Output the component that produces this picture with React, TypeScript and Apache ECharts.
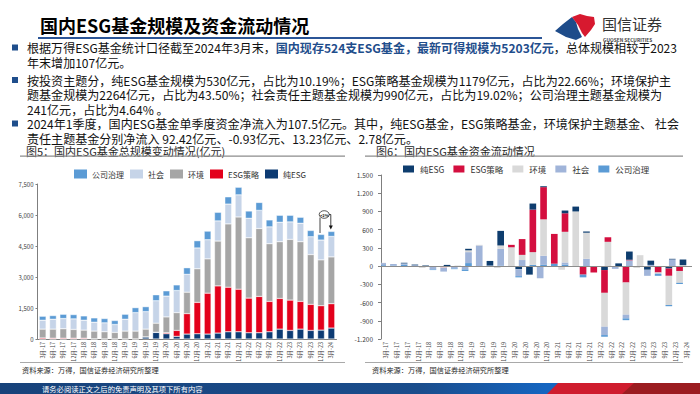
import React, { useEffect, useRef } from "react";
import * as echarts from "echarts";

const FONT = '"Noto Sans CJK SC", "Noto Sans", sans-serif';

// ---------- data ----------
const quarters = [
  "3月-17", "6月-17", "9月-17", "12月-17",
  "3月-18", "6月-18", "9月-18", "12月-18",
  "3月-19", "6月-19", "9月-19", "12月-19",
  "3月-20", "6月-20", "9月-20", "12月-20",
  "3月-21", "6月-21", "9月-21", "12月-21",
  "3月-22", "6月-22", "9月-22", "12月-22",
  "3月-23", "6月-23", "9月-23", "12月-23",
  "3月-24",
];

// Fig 5: fund size (亿元)
const sizePure = [0, 0, 0, 0, 0, 0, 0, 0, 0, 0, 100, 319, 255, 128, 239, 255, 239, 287, 351, 351, 303, 303, 351, 479, 415, 479, 415, 431, 530];
const sizeStrategy = [50, 40, 40, 40, 40, 10, 5, 5, 5, 5, 5, 10, 48, 287, 990, 1517, 1979, 2283, 2155, 2059, 1676, 1756, 1468, 1484, 1468, 1340, 1261, 1181, 1179];
const sizeEnv = [429, 439, 455, 423, 391, 373, 346, 314, 378, 378, 374, 437, 766, 862, 1037, 1627, 1660, 2170, 3064, 3495, 2921, 3288, 2793, 2745, 2937, 2889, 2410, 2218, 2264];
const sizeSocial = [431, 479, 495, 511, 479, 431, 431, 383, 575, 894, 846, 1085, 1006, 1069, 862, 1006, 926, 974, 958, 1070, 941, 877, 814, 942, 846, 894, 862, 958, 990];
const sizeGov = [191, 175, 207, 207, 207, 207, 208, 192, 239, 239, 239, 288, 255, 271, 319, 351, 415, 415, 351, 367, 351, 383, 335, 335, 319, 287, 303, 271, 241];

// Fig 6: net flows (亿元)
const flowPure = [0, 0, 10, 10, 10, 0, 20, 0, 25, 0, 75, 240, -50, -140, 100, 15, 0, 45, 80, 20, -65, 0, 45, 135, -60, 70, -40, 10, 92.42];
const flowStrategy = [-5, -10, 0, 0, 0, -20, 0, 0, 0, 0, 0, 0, 40, 260, 700, 530, 490, 305, -140, -105, -375, 75, -270, 10, 0, -105, -120, -80, -0.93];
const flowEnv = [5, 0, 0, -30, -5, -10, 0, 10, 30, 10, -30, 55, 310, 85, 210, 600, -60, 505, 900, 430, -558, 400, -530, -30, 180, -20, -480, -195, 13.23];
const flowSocial = [35, 25, 20, 15, -50, -60, -40, -55, 180, 340, 5, 275, -115, 100, -200, 150, 0, 35, 0, 120, -137, -45, -60, 95, -100, 20, 0, 110, 2.78];
const flowGov = [15, 10, 25, 0, -10, 0, -10, -25, 50, 0, 5, 10, -20, 0, 20, 20, 40, 25, -45, 0, -28, 0, -30, 0, 0, -35, -20, -20, 0];

const leftColors: Record<string, string> = {
  纯ESG: "#0D3B73",
  ESG策略: "#E3001B",
  环境: "#A6A6A6",
  社会: "#C6D4E8",
  公司治理: "#5B9BD5",
};
const rightColors: Record<string, string> = {
  纯ESG: "#0E3D6E",
  ESG策略: "#D40F3F",
  环境: "#D9D9D9",
  社会: "#A0B4D9",
  公司治理: "#5B9BD5",
};

const bodyLines = [
  "{n|根据万得ESG基金统计口径截至2024年3月末，}{b|国内现存524支ESG基金，最新可得规模为5203亿元}{n|，总体规模相较于2023}",
  "{n|年末增加107亿元。}",
  "{n|按投资主题分，纯ESG基金规模为530亿元，占比为10.19%；ESG策略基金规模为1179亿元，占比为22.66%；环境保护主}",
  "{n|题基金规模为2264亿元，占比为43.50%；社会责任主题基金规模为990亿元，占比为19.02%；公司治理主题基金规模为}",
  "{n|241亿元，占比为4.64% 。}",
  "{n|2024年1季度，国内ESG基金单季度资金净流入为107.5亿元。其中，纯ESG基金，ESG策略基金，环境保护主题基金、 社会}",
  "{n|责任主题基金分别净流入 92.42亿元、-0.93亿元、13.23亿元、2.78亿元。}",
];
const bodyY = [47.5, 62.5, 80, 94.5, 109, 123.5, 138];
const bulletY = [47.5, 80, 123.5];

const fmtComma = (v: number) => v.toLocaleString("en-US");
const fmtDot = (v: number) => {
  const a = Math.abs(v);
  const s = a >= 1000 ? Math.floor(a / 1000) + "." + String(a % 1000).padStart(3, "0") : String(a);
  return (v < 0 ? "-" : "") + s;
};

export default function App() {
  const ref = useRef<HTMLDivElement>(null);
  useEffect(() => {
    const chart = echarts.init(ref.current!, undefined, { renderer: "svg" });

    const leftSeriesDef: [string, number[]][] = [
      ["纯ESG", sizePure],
      ["ESG策略", sizeStrategy],
      ["环境", sizeEnv],
      ["社会", sizeSocial],
      ["公司治理", sizeGov],
    ];
    const leftSeries = leftSeriesDef.map(([name, arr]) => ({
      type: "bar",
      name,
      stack: "size",
      xAxisIndex: 0,
      yAxisIndex: 0,
      barWidth: "66%",
      data: arr,
      itemStyle: { color: leftColors[name], borderColor: "#ffffff", borderWidth: 0.4 },
    }));

    const posOrder: [string, number[]][] = [
      ["公司治理", flowGov],
      ["社会", flowSocial],
      ["环境", flowEnv],
      ["ESG策略", flowStrategy],
      ["纯ESG", flowPure],
    ];
    const negOrder: [string, number[]][] = [
      ["纯ESG", flowPure],
      ["ESG策略", flowStrategy],
      ["环境", flowEnv],
      ["社会", flowSocial],
      ["公司治理", flowGov],
    ];
    const rightSeries: any[] = [];
    posOrder.forEach(([name, arr], i) => {
      rightSeries.push({
        type: "bar",
        name,
        stack: "pos",
        xAxisIndex: 1,
        yAxisIndex: 1,
        barWidth: "62%",
        data: arr.map((v) => (v > 0 ? v : 0)),
        itemStyle: { color: rightColors[name] },
        ...(i === 0
          ? {
              markLine: {
                silent: true,
                symbol: "none",
                label: { show: false },
                lineStyle: { color: "#8C8C8C", width: 1, type: "solid" },
                data: [{ yAxis: 0 }],
              },
            }
          : {}),
      });
    });
    negOrder.forEach(([name, arr]) => {
      rightSeries.push({
        type: "bar",
        name,
        stack: "neg",
        xAxisIndex: 1,
        yAxisIndex: 1,
        barWidth: "62%",
        data: arr.map((v) => (v < 0 ? v : 0)),
        itemStyle: { color: rightColors[name] },
      });
    });

    const legendNamesLeft = ["公司治理", "社会", "环境", "ESG策略", "纯ESG"];
    const legendNamesRight = ["纯ESG", "ESG策略", "环境", "社会", "公司治理"];

    const graphics: any[] = [];
    // title
    graphics.push({
      type: "text",
      style: { x: 40, y: 25, text: "国内ESG基金规模及资金流动情况", font: `bold 18px ${FONT}`, fill: "#000", verticalAlign: "middle" },
    });
    graphics.push({ type: "rect", shape: { x: 38, y: 37, width: 504, height: 2 }, style: { fill: "#2B5597" } });
    // logo
    graphics.push({
      type: "polygon",
      shape: { points: [[555, 31], [563, 24], [572, 17], [576, 22], [578, 29], [582, 37], [576, 40], [566, 37]] },
      style: { fill: "#1E4C8A" },
    });
    graphics.push({
      type: "polygon",
      shape: { points: [[572, 17], [580, 14], [587, 16], [594, 17], [595, 24], [591, 30], [585, 37], [582, 33], [578, 25]] },
      style: { fill: "#D7192F" },
    });
    graphics.push({
      type: "text",
      style: { x: 602, y: 23, text: "国信证券", font: `15px ${FONT}`, fill: "#333", verticalAlign: "middle" },
    });
    graphics.push({
      type: "text",
      style: { x: 603, y: 39, text: "GUOSEN SECURITIES", font: `bold 4.8px ${FONT}`, fill: "#444", verticalAlign: "middle" },
    });
    // bullets
    bulletY.forEach((y) => {
      graphics.push({ type: "rect", shape: { x: 12, y: y - 3, width: 6, height: 6 }, style: { fill: "#1F4E8C" } });
    });
    // body text
    bodyLines.forEach((t, i) => {
      graphics.push({
        type: "text",
        style: {
          x: 27,
          y: bodyY[i],
          text: t,
          verticalAlign: "middle",
          rich: {
            n: { fontSize: 12.05, lineHeight: 13, fontFamily: FONT, fill: "#111" },
            b: { fontSize: 12.05, lineHeight: 13, fontFamily: FONT, fontWeight: "bold", fill: "#1F4E8C" },
          },
        },
      });
    });
    // chart titles
    graphics.push({
      type: "text",
      style: { x: 26, y: 150.5, text: "图5：国内ESG基金总规模变动情况(亿元)", font: `11px ${FONT}`, fill: "#262626", verticalAlign: "middle" },
    });
    graphics.push({
      type: "text",
      style: { x: 376, y: 150.5, text: "图6：国内ESG基金资金流动情况", font: `11px ${FONT}`, fill: "#262626", verticalAlign: "middle" },
    });
    graphics.push({ type: "rect", shape: { x: 20, y: 155.5, width: 325, height: 1.3 }, style: { fill: "#8C8C8C" } });
    graphics.push({ type: "rect", shape: { x: 365, y: 155.5, width: 318, height: 1.3 }, style: { fill: "#8C8C8C" } });
    // bottom lines + sources
    graphics.push({ type: "rect", shape: { x: 20, y: 362, width: 325, height: 0.8 }, style: { fill: "#8C8C8C" } });
    graphics.push({ type: "rect", shape: { x: 365, y: 362, width: 318, height: 0.8 }, style: { fill: "#8C8C8C" } });
    graphics.push({
      type: "text",
      style: { x: 22, y: 370, text: "资料来源：万得，国信证券经济研究所整理", font: `7.2px ${FONT}`, fill: "#262626", verticalAlign: "middle" },
    });
    graphics.push({
      type: "text",
      style: { x: 372, y: 370, text: "资料来源：万得，国信证券经济研究所整理", font: `7.2px ${FONT}`, fill: "#262626", verticalAlign: "middle" },
    });
    // footer
    graphics.push({
      type: "rect",
      shape: { x: 0, y: 383, width: 700, height: 11 },
      style: {
        fill: new echarts.graphic.LinearGradient(0, 0, 1, 0, [
          { offset: 0, color: "#17427A" },
          { offset: 0.6, color: "#1A4D8C" },
          { offset: 0.78, color: "#1565C0" },
          { offset: 1, color: "#1565C0" },
        ]),
      },
    });
    graphics.push({
      type: "polygon",
      shape: { points: [[547, 394], [558, 383], [700, 383], [700, 394]] },
      style: { fill: "#CF1C2E" },
    });
    graphics.push({
      type: "polygon",
      shape: { points: [[622, 394], [634, 383], [700, 383], [700, 394]] },
      style: { fill: "#9B1C20" },
    });
    graphics.push({
      type: "text",
      style: { x: 42, y: 388.5, text: "请务必阅读正文之后的免责声明及其项下所有内容", font: `7.3px ${FONT}`, fill: "#ffffff", verticalAlign: "middle" },
    });
    // +2% annotation
    graphics.push({ type: "line", shape: { x1: 320, y1: 217.5, x2: 320, y2: 233 }, style: { stroke: "#111", lineWidth: 0.8 } });
    graphics.push({ type: "polyline", shape: { points: [[329, 214.5], [330.8, 214.5], [330.8, 226]] }, style: { stroke: "#111", lineWidth: 0.8, fill: "none" } });
    graphics.push({ type: "polygon", shape: { points: [[328.8, 225.5], [332.8, 225.5], [330.8, 229.5]] }, style: { fill: "#111" } });
    graphics.push({ type: "ellipse", shape: { cx: 324.2, cy: 214.5, rx: 5, ry: 3.8 }, style: { fill: "#fff", stroke: "#111", lineWidth: 0.7 } });
    graphics.push({
      type: "text",
      style: { x: 324.2, y: 214.7, text: "+2%", font: `bold 4px ${FONT}`, fill: "#111", align: "center", verticalAlign: "middle" },
    });

    const option: any = {
      animation: false,
      textStyle: { fontFamily: FONT },
      grid: [
        { left: 37.5, top: 184, width: 299, height: 155 },
        { left: 381, top: 175, width: 311, height: 164 },
      ],
      legend: [
        {
          left: 74,
          top: 169.5,
          padding: 0,
          icon: "rect",
          itemWidth: 13,
          itemHeight: 9,
          itemGap: 6,
          selectedMode: false,
          textStyle: { fontSize: 8, color: "#333", fontFamily: FONT },
          data: legendNamesLeft.map((n) => ({ name: n, itemStyle: { color: leftColors[n], borderWidth: 0 } })),
        },
        {
          left: 401,
          top: 163.5,
          padding: 0,
          icon: "rect",
          itemWidth: 13,
          itemHeight: 9,
          itemGap: 7,
          selectedMode: false,
          textStyle: { fontSize: 8.5, color: "#333", fontFamily: FONT },
          data: legendNamesRight.map((n) => ({ name: n, itemStyle: { color: rightColors[n] } })),
        },
      ],
      xAxis: [
        {
          gridIndex: 0,
          type: "category",
          data: quarters,
          axisLine: { lineStyle: { color: "#7F7F7F", width: 1 } },
          axisTick: { show: false },
          axisLabel: { rotate: 90, fontSize: 5.5, margin: 3, interval: 0, color: "#404040", fontFamily: FONT },
        },
        {
          gridIndex: 1,
          type: "category",
          data: quarters,
          position: "bottom",
          axisLine: { show: false, onZero: false },
          axisTick: { show: false },
          axisLabel: { rotate: 90, fontSize: 5.5, margin: 3, interval: 0, color: "#404040", fontFamily: FONT },
        },
      ],
      yAxis: [
        {
          gridIndex: 0,
          type: "value",
          min: 0,
          max: 7500,
          interval: 1500,
          axisLine: { show: true, lineStyle: { color: "#7F7F7F" } },
          axisTick: { show: true, length: 2, lineStyle: { color: "#7F7F7F" } },
          splitLine: { show: false },
          axisLabel: { fontSize: 6, color: "#404040", margin: 4, formatter: (v: number) => fmtComma(v), fontFamily: FONT },
        },
        {
          gridIndex: 1,
          type: "value",
          min: -1200,
          max: 1500,
          interval: 300,
          axisLine: { show: true, lineStyle: { color: "#7F7F7F" } },
          axisTick: { show: true, length: 3, lineStyle: { color: "#7F7F7F" } },
          splitLine: { show: false },
          axisLabel: { fontSize: 6.5, color: "#404040", margin: 8, formatter: (v: number) => fmtDot(v), fontFamily: FONT },
        },
      ],
      series: [...leftSeries, ...rightSeries],
      graphic: { elements: graphics },
    };

    chart.setOption(option);
    return () => chart.dispose();
  }, []);

  return <div ref={ref} style={{ position: "absolute", left: 0, top: 0, width: 700, height: 394 }} />;
}
